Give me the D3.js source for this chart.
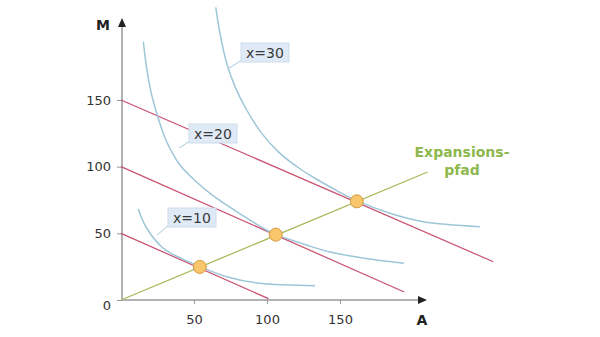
<!DOCTYPE html>
<html><head><meta charset="utf-8">
<script src="https://cdn.jsdelivr.net/npm/d3@7"></script>
<style>body{margin:0;background:#fff} svg{display:block} text{font-family:"DejaVu Sans",Verdana,sans-serif}</style>
</head><body><svg id="c" width="600" height="337"></svg>
<script>
// ---- data ----
const xTicks = [50, 100, 150];
const yTicks = [0, 50, 100, 150];
const curveLabels = ["x=10", "x=20", "x=30"];
const curve10 = [[11.8,68.2],[17.6,53.8],[29,38.8],[41.6,31],[54.1,25],[72.4,17.5],[95.2,12.5],[132.9,10.7]];
const curve20 = [[15.3,193.7],[17.6,173.8],[21.0,153.8],[25.5,136.3],[31.3,118.7],[40.4,101.3],[51.8,88.5],[62.1,79],[81,65],[100,52.3],[106.2,49],[127.2,41.2],[143.2,36],[170.5,30.7],[193.8,27.5]];
const curve30 = [[64.9,219.5],[67.8,200],[72.4,177.5],[78.1,160],[86.1,142.5],[96.4,125],[108.9,110],[123.8,97.5],[132.9,91.3],[147,82.5],[161.5,74.5],[184.2,65],[207,58.7],[245.9,55]];
const budgetIntercepts = [50, 100, 150];
const budgetEnds = [[101,1],[194,6],[255,28.7]];
const expansionPath = [[0,0],[210,96]];
const optima = [[54,24.8],[106,49],[161.5,74]];
const pathLabel = ["Expansions-", "pfad"];
const axisLabels = ["A", "M"];

// ---- drawing ----
const svg = d3.select("#c");
svg.append("rect").attr("width",600).attr("height",337).attr("fill","#fff");
const x = d3.scaleLinear().domain([0,150]).range([121,340]);
const y = d3.scaleLinear().domain([0,150]).range([300,100]);
const line = d3.line().x(d=>x(d[0])).y(d=>y(d[1]));
const smooth = d3.line().x(d=>x(d[0])).y(d=>y(d[1])).curve(d3.curveCatmullRom.alpha(0.5));

// axes
const gx = svg.append("g").attr("transform","translate(0,300)")
  .call(d3.axisBottom(x).tickValues(xTicks).tickSize(4).tickPadding(11));
const gy = svg.append("g").attr("transform","translate(122,0)")
  .call(d3.axisLeft(y).tickValues(yTicks).tickSize(5).tickPadding(6));
[gx,gy].forEach(g=>{
  g.select(".domain").remove();
  g.selectAll(".tick line").attr("stroke","#999").attr("stroke-width",1);
  g.selectAll(".tick text").attr("fill","#333").style("font-size","13px").style("font-family","'DejaVu Sans',Verdana,sans-serif");
});
gy.selectAll(".tick text").filter(d=>d===0).attr("dy","0.75em");

svg.append("line").attr("x1",122).attr("y1",300).attr("x2",420).attr("y2",300).attr("stroke","#999").attr("stroke-width",1.5);
svg.append("line").attr("x1",122).attr("y1",300).attr("x2",122).attr("y2",26).attr("stroke","#999").attr("stroke-width",1.5);
svg.append("path").attr("d","M427,300 L418,296 L418,304 Z").attr("fill","#222");
svg.append("path").attr("d","M122,18 L118,27 L126,27 Z").attr("fill","#222");
svg.append("text").attr("x",422).attr("y",325).attr("text-anchor","middle").attr("font-weight","bold").attr("font-size",14).attr("fill","#222").text(axisLabels[0]);
svg.append("text").attr("x",103).attr("y",30).attr("text-anchor","middle").attr("font-weight","bold").attr("font-size",14).attr("fill","#222").text(axisLabels[1]);

// budget lines
budgetIntercepts.forEach((b,i)=>{
  svg.append("path").attr("d",line([[0,b],budgetEnds[i]])).attr("fill","none").attr("stroke","#c8506e").attr("stroke-width",1.2);
});
// indifference curves
[curve10,curve20,curve30].forEach(c=>{
  svg.append("path").attr("d",smooth(c)).attr("fill","none").attr("stroke","#9ec6d9").attr("stroke-width",1.5);
});
// expansion path
svg.append("path").attr("d",line(expansionPath)).attr("fill","none").attr("stroke","#a9b85a").attr("stroke-width",1.3);

// label boxes with leader lines (pixel layout)
const boxes = [
  {bx:168,by:208,lx:157,ly:235},
  {bx:189,by:124,lx:179,ly:148},
  {bx:241,by:43,lx:229,ly:68}
];
curveLabels.forEach((t,i)=>{
  const b = boxes[i];
  svg.append("line").attr("x1",b.lx).attr("y1",b.ly).attr("x2",b.bx+1).attr("y2",b.by+17).attr("stroke","#a9c8dc").attr("stroke-width",1);
  svg.append("rect").attr("x",b.bx).attr("y",b.by).attr("width",48).attr("height",19).attr("fill","#dfeaf6").attr("stroke","#cddcec").attr("stroke-width",1);
  svg.append("text").attr("x",b.bx+24).attr("y",b.by+15).attr("text-anchor","middle").attr("font-size",14).attr("fill","#3a3a3a").text(t);
});

// optimum points
svg.selectAll("circle.opt").data(optima).join("circle").attr("class","opt")
  .attr("cx",d=>x(d[0])).attr("cy",d=>y(d[1])).attr("r",6.5)
  .attr("fill","#f9c66b").attr("stroke","#d59a42").attr("stroke-width",1);

// expansion path label
svg.append("text").attr("x",462).attr("y",157).attr("text-anchor","middle").attr("font-weight","bold").attr("font-size",14).attr("fill","#8db84c").text(pathLabel[0]);
svg.append("text").attr("x",462).attr("y",175).attr("text-anchor","middle").attr("font-weight","bold").attr("font-size",14).attr("fill","#8db84c").text(pathLabel[1]);
</script></body></html>
